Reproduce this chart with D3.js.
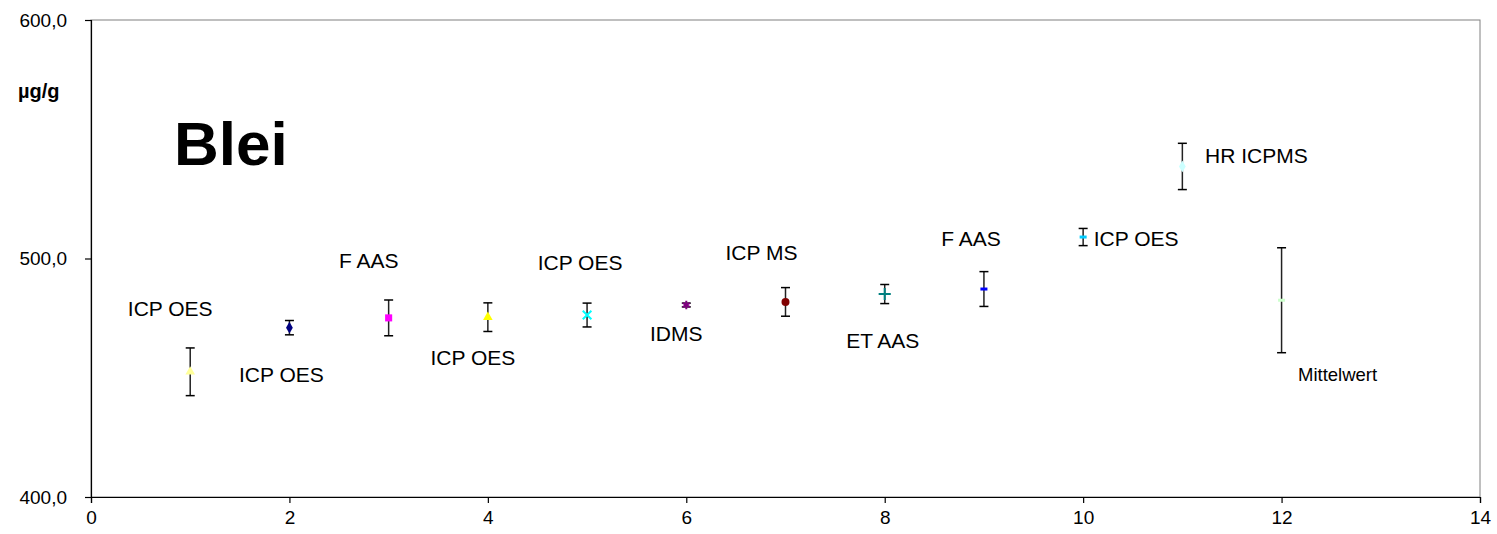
<!DOCTYPE html>
<html>
<head>
<meta charset="utf-8">
<script src="https://cdn.jsdelivr.net/npm/d3@7"></script>
<style>
    body { margin: 0; background: #fff; }
    svg { display: block; font-family: Arial, "Liberation Sans", sans-serif; }
</style>
</head>
<body>
<svg id="chart" width="1497" height="534"></svg>
<script>
// lab number on the x axis, lead content and its uncertainty (µg/g)
const labs = [1, 2, 3, 4, 5, 6, 7, 8, 9, 10, 11, 12];
const values = [452.5, 471.0, 475.1, 475.4, 476.3, 480.5, 481.8, 485.1, 487.2, 509.0, 538.6, 482.5];
const errors = [10.0, 3.0, 7.5, 6.0, 5.0, 0.8, 6.0, 4.0, 7.3, 3.6, 9.7, 22.0];
const methods = ['ICP OES', 'ICP OES', 'F AAS', 'ICP OES', 'ICP OES', 'IDMS', 'ICP MS', 'ET AAS', 'F AAS', 'ICP OES', 'HR ICPMS', 'Mittelwert'];
const markers = ['triangle', 'diamond', 'square', 'triangle', 'x', 'asterisk', 'circle', 'plus', 'dash', 'dash', 'diamond', 'dash'];
const colors = ['#ffff99', '#000080', '#ff00ff', '#ffff00', '#00ffff', '#800080', '#800000', '#008080', '#0000ff', '#00ccff', '#ccffff', '#ccffcc'];
const xTicks = [0, 2, 4, 6, 8, 10, 12, 14];
const yTicks = [400, 500, 600];

// label offsets (px) from each point: [dx, dy of baseline], and font size
const labelOffsets = [[-20, -56], [-8, 54], [-20, -50], [-15, 48], [-7, -45], [-10, 36],
    [-24, -42], [-2, 54], [-13, -43], [53, 9], [74, -3], [56, 81]];
const labelSizes = [21, 21, 21, 21, 21, 21, 21, 21, 21, 21, 21, 18.5];

const svg = d3.select('#chart');
const margin = {left: 91, right: 17, top: 20, bottom: 37};
const width = 1497, height = 534;

const x = d3.scaleLinear().domain([0, 14]).range([margin.left, width - margin.right]);
const y = d3.scaleLinear().domain([400, 600]).range([height - margin.bottom, margin.top]);

// plot frame (top and right in grey)
svg.append('rect')
    .attr('x', x(0)).attr('y', y(600))
    .attr('width', x(14) - x(0)).attr('height', y(400) - y(600))
    .attr('fill', 'none').attr('stroke', '#808080').attr('stroke-width', 1);

// axes
const xAxis = svg.append('g')
    .attr('transform', `translate(0,${y(400)})`)
    .call(d3.axisBottom(x).tickValues(xTicks).tickSize(6).tickPadding(8).tickFormat(d3.format('d')));
const yAxis = svg.append('g')
    .attr('transform', `translate(${x(0)},0)`)
    .call(d3.axisLeft(y).tickValues(yTicks).tickSize(6).tickPadding(18)
        .tickFormat(d => d.toFixed(1).replace('.', ',')));

[xAxis, yAxis].forEach(g => {
    g.select('.domain').attr('stroke', '#000').attr('stroke-width', 1.2);
    g.selectAll('.tick line').attr('stroke', '#000').attr('stroke-width', 1.2);
    g.selectAll('.tick text').attr('fill', '#000').style('font-size', '19px')
        .style('font-family', 'Arial, "Liberation Sans", sans-serif');
});

// error bars
const bars = svg.append('g');
labs.forEach((lab, i) => {
    const cx = x(lab);
    const top = y(values[i] + errors[i]);
    const bot = y(values[i] - errors[i]);
    bars.append('line').attr('x1', cx).attr('x2', cx).attr('y1', top).attr('y2', bot)
        .attr('stroke', '#222').attr('stroke-width', 1.5);
    [top, bot].forEach(cy => {
        bars.append('line').attr('x1', cx - 4.5).attr('x2', cx + 4.5).attr('y1', cy).attr('y2', cy)
            .attr('stroke', '#000').attr('stroke-width', 1.5);
    });
});

// markers
const symbolFor = {
    triangle: d3.symbol(d3.symbolTriangle, 40),
    diamond: d3.symbol(d3.symbolDiamond, 40),
    square: d3.symbol(d3.symbolSquare, 50),
    circle: d3.symbol(d3.symbolCircle, 50),
    x: d3.symbol(d3.symbolX, 50),
    plus: d3.symbol(d3.symbolCross2 || d3.symbolPlus, 50),
    asterisk: d3.symbol(d3.symbolAsterisk, 50)
};
const marks = svg.append('g');
labs.forEach((lab, i) => {
    const m = markers[i];
    const g = marks.append('g').attr('transform', `translate(${x(lab)},${y(values[i])})`);
    if (m === 'dash') {
        g.append('rect').attr('x', -3.5).attr('y', -1.5).attr('width', 7).attr('height', 3)
            .attr('fill', colors[i]);
    } else if (m === 'x' || m === 'plus' || m === 'asterisk') {
        g.append('path').attr('d', symbolFor[m]()).attr('fill', 'none')
            .attr('stroke', colors[i]).attr('stroke-width', 2);
    } else {
        g.append('path').attr('d', symbolFor[m]()).attr('fill', colors[i]);
    }
});

// method labels
const labels = svg.append('g').attr('fill', '#000').attr('text-anchor', 'middle');
labs.forEach((lab, i) => {
    labels.append('text')
        .attr('x', x(lab) + labelOffsets[i][0])
        .attr('y', y(values[i]) + labelOffsets[i][1])
        .style('font-size', labelSizes[i] + 'px')
        .text(methods[i]);
});

// titles
svg.append('text').attr('x', 174).attr('y', 165)
    .style('font-size', '62px').style('font-weight', 'bold').text('Blei');
svg.append('text').attr('x', 18).attr('y', 98)
    .style('font-size', '20px').style('font-weight', 'bold').text('µg/g');
</script>
</body>
</html>
